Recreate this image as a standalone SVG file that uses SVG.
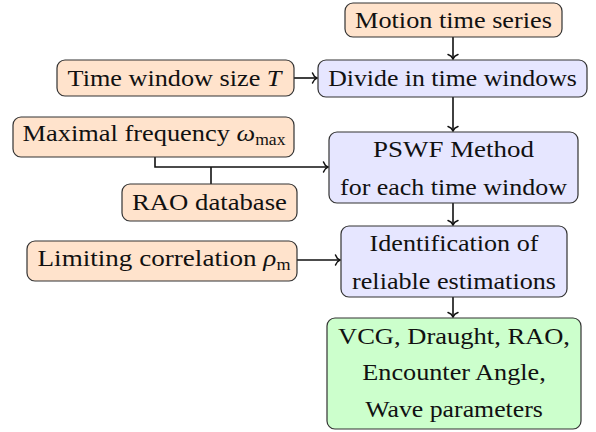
<svg xmlns="http://www.w3.org/2000/svg" width="596" height="432" viewBox="0 0 596 432">
<style>
.box{stroke:#333;stroke-width:1.2}
.in{fill:#FFE3CC}
.proc{fill:#E6E6FF}
.out{fill:#CCFFCC}
text{font-family:'Liberation Serif','Times New Roman',serif;font-size:24px;fill:#111;text-anchor:middle}
.mi{font-style:italic}
.sub{font-size:16px}
.line{fill:none;stroke:#111;stroke-width:1.6}
</style>
<defs>
<marker id="arr" markerUnits="userSpaceOnUse" viewBox="-6 -6 8 12" refX="0" refY="0" markerWidth="8" markerHeight="12" orient="auto">
<path d="M -4.5 -5 C -3.6 -2.2 -1.2 -0.5 0 0 C -1.2 0.5 -3.6 2.2 -4.5 5" fill="none" stroke="#111" stroke-width="1.5" stroke-linecap="round"/>
</marker>
</defs>
<g id="connectors">
<line class="line" x1="453" y1="37" x2="453" y2="59" marker-end="url(#arr)"/>
<line class="line" x1="294" y1="78" x2="317" y2="78" marker-end="url(#arr)"/>
<line class="line" x1="453" y1="97" x2="453" y2="131" marker-end="url(#arr)"/>
<polyline class="line" points="155,157 155,167 328,167" marker-end="url(#arr)"/>
<line class="line" x1="211" y1="167" x2="211" y2="184"/>
<line class="line" x1="453" y1="203" x2="453" y2="225" marker-end="url(#arr)"/>
<line class="line" x1="297" y1="260" x2="340" y2="260" marker-end="url(#arr)"/>
<line class="line" x1="453" y1="297" x2="453" y2="317" marker-end="url(#arr)"/>
</g>
<g id="motion">
<rect class="box in" x="345" y="3" width="217" height="34" rx="8"/>
<text transform="translate(453.5,28) scale(1.094,1)">Motion time series</text>
</g>
<g id="timewindow">
<rect class="box in" x="57" y="60" width="237" height="36" rx="8"/>
<text transform="translate(174.5,86) scale(1.093,1)">Time window size <tspan class="mi">T</tspan></text>
</g>
<g id="divide">
<rect class="box proc" x="318" y="60" width="269" height="37" rx="8"/>
<text transform="translate(452.5,86) scale(1.076,1)">Divide in time windows</text>
</g>
<g id="maxfreq">
<rect class="box in" x="13" y="117" width="281" height="40" rx="8"/>
<text transform="translate(154,141) scale(1.10,1)">Maximal frequency <tspan class="mi">ω</tspan><tspan class="sub" dy="4">max</tspan></text>
</g>
<g id="rao">
<rect class="box in" x="122" y="184" width="175" height="37" rx="8"/>
<text transform="translate(209.5,210) scale(1.113,1)">RAO database</text>
</g>
<g id="pswf">
<rect class="box proc" x="329" y="132" width="249" height="71" rx="8"/>
<text transform="translate(453.5,157) scale(1.123,1)">PSWF Method</text>
<text transform="translate(453.5,195) scale(1.081,1)">for each time window</text>
</g>
<g id="limiting">
<rect class="box in" x="27" y="241" width="270" height="40" rx="8"/>
<text transform="translate(164,266) scale(1.13,1)">Limiting correlation <tspan class="mi">ρ</tspan><tspan class="sub" dy="4">m</tspan></text>
</g>
<g id="identification">
<rect class="box proc" x="341" y="226" width="226" height="71" rx="8"/>
<text transform="translate(454,251) scale(1.088,1)">Identification of</text>
<text transform="translate(454,289) scale(1.089,1)">reliable estimations</text>
</g>
<g id="results">
<rect class="box out" x="327" y="318" width="254" height="111" rx="8"/>
<text transform="translate(454,343.5) scale(1.105,1)">VCG, Draught, RAO,</text>
<text transform="translate(454,380) scale(1.093,1)">Encounter Angle,</text>
<text transform="translate(454,416.5) scale(1.076,1)">Wave parameters</text>
</g>
</svg>
